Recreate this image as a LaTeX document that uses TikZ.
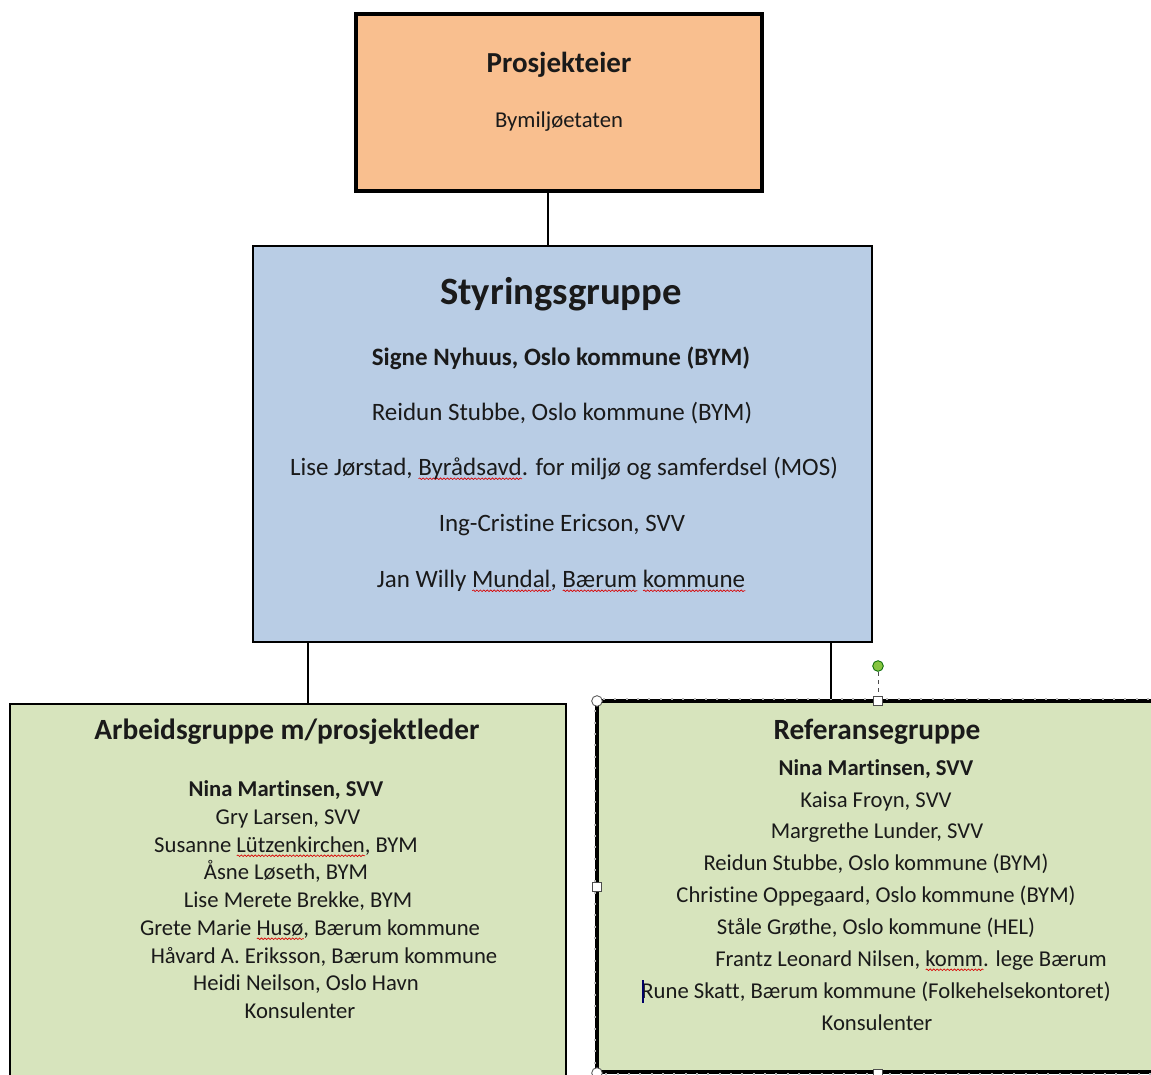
\documentclass[tikz,border=0pt]{standalone}
\usepackage{fontspec}
\setmainfont{Carlito}[Ligatures=NoCommon]
\usetikzlibrary{fit,calc,decorations.pathmorphing}
\definecolor{eierfill}{HTML}{F9BF8F}
\definecolor{styrfill}{HTML}{B9CDE5}
\definecolor{grpfill}{HTML}{D7E4BD}
\definecolor{txtcol}{HTML}{1A1A1A}
\definecolor{handlegreen}{HTML}{86C440}
% red wavy mark under a word
\newsavebox\spellbox
\newlength\spellwd
\newcommand\spell[1]{\sbox\spellbox{#1}\setlength\spellwd{\wd\spellbox}%
  \rlap{\tikz[baseline=0pt]\draw[red!85!black, line width=0.5pt, decorate,
    decoration={snake, amplitude=0.6pt, segment length=2.6pt}]
    (0pt,-2.8pt) -- (\spellwd,-2.8pt);}\usebox\spellbox}

\begin{document}
\begin{tikzpicture}[x=0.75pt, y=-0.75pt,
    box/.style={draw=black, inner sep=0pt},
    conn/.style={draw=black, line width=1.6pt},
    ttl/.style={anchor=base, text=txtcol, inner sep=0pt, font=\fontsize{22}{26}\selectfont\bfseries},
    mem/.style={anchor=base, text=txtcol, inner sep=0pt, font=\fontsize{17}{20}\selectfont},
    handle/.style={draw=gray!60!black, fill=white, line width=0.6pt}]
    \useasboundingbox (0,0) rectangle (1151,1074);
    \clip (0,0) rectangle (1151,1074);

    % Boxes
    \node[box, fill=eierfill, line width=3.3pt, fit={(356,14) (762,191)}] (eier) {};
    \node[box, fill=styrfill, line width=1.8pt, fit={(253,246) (872,642)}] (styr) {};
    \node[box, fill=grpfill, line width=2.2pt, fit={(10,704) (566,1110)}] (arb) {};
    \node[box, fill=grpfill, line width=3pt, fit={(597,701) (1175,1072)}] (ref) {};
    \draw[gray!55, line width=1pt, dash pattern=on 1.5pt off 7pt]
        (ref.north west) rectangle (ref.south east);

    % Connectors
    \coordinate (e1) at (548,191);
    \coordinate (s1) at (308,642);
    \coordinate (s2) at (831,642);
    \draw[conn] (e1 |- eier.south) -- (e1 |- styr.north);
    \draw[conn] (s1 |- styr.south) -- (s1 |- arb.north);
    \draw[conn] (s2 |- styr.south) -- (s2 |- ref.north);

    % Prosjekteier
    \node[ttl, font=\fontsize{21.75}{26}\selectfont\bfseries] (eierttl) at (559,72) {Prosjekteier};
    \node[mem] (eiermem) at (559,127) {Bymiljøetaten};

    % Styringsgruppe
    \node[ttl, font=\fontsize{29}{34}\selectfont\bfseries] (styrttl) at (561,304) {Styringsgruppe};
    \foreach \x/\y/\t [count=\i] in {561/365/{\bfseries Signe Nyhuus, Oslo kommune (BYM)},
        562/420/{Reidun Stubbe, Oslo kommune (BYM)},
        564/475/{Lise Jørstad, \spell{Byrådsavd}. for miljø og samferdsel (MOS)},
        562/531/{Ing-Cristine Ericson, SVV},
        561/587/{Jan Willy \spell{Mundal}, \spell{Bærum} \spell{kommune}}}
        \node[mem, font=\fontsize{18.75}{22}\selectfont] (styr\i) at (\x,\y) {\t};

    % Arbeidsgruppe
    \node[ttl] (arbttl) at (287,739) {Arbeidsgruppe m/prosjektleder};
    \foreach \x/\y/\t [count=\i] in {286/796/{\bfseries Nina Martinsen, SVV},
        288/824/{Gry Larsen, SVV},
        286/852/{Susanne \spell{Lützenkirchen}, BYM},
        286/879/{Åsne Løseth, BYM},
        298/907/{Lise Merete Brekke, BYM},
        310/935/{Grete Marie \spell{Husø}, Bærum kommune},
        324/963/{Håvard A. Eriksson, Bærum kommune},
        306/990/{Heidi Neilson, Oslo Havn},
        300/1018/{Konsulenter}}
        \node[mem] (arb\i) at (\x,\y) {\t};

    % Referansegruppe
    \node[ttl] (refttl) at (877,739) {Referansegruppe};
    \foreach \x/\y/\t [count=\i] in {876/775/{\bfseries Nina Martinsen, SVV},
        876/807/{Kaisa Froyn, SVV},
        877/838/{Margrethe Lunder, SVV},
        876/870/{Reidun Stubbe, Oslo kommune (BYM)},
        876/902/{Christine Oppegaard, Oslo kommune (BYM)},
        876/934/{Ståle Grøthe, Oslo kommune (HEL)},
        911/966/{Frantz Leonard Nilsen, \spell{komm}. lege Bærum},
        876/998/{Rune Skatt, Bærum kommune (Folkehelsekontoret)},
        877/1030/{Konsulenter}}
        \node[mem] (ref\i) at (\x,\y) {\t};

    % Text cursor
    \draw[blue!40!black, line width=1pt] (643,980) -- (643,1003);

    % Selection handles
    \draw[gray!60!black, line width=0.6pt, dashed] (878,672) -- (878,696);
    \draw[draw=green!40!black, fill=handlegreen, line width=0.6pt] (878,666) circle (4pt);
    \draw[handle] (597,701) circle (4pt);
    \draw[handle] (597,1073) circle (4pt);
    \draw[handle] (873.5,696.5) rectangle (882.5,705.5);
    \draw[handle] (592.5,882.5) rectangle (601.5,891.5);
    \draw[handle] (873.5,1069.5) rectangle (882.5,1078.5);
\end{tikzpicture}
\end{document}
